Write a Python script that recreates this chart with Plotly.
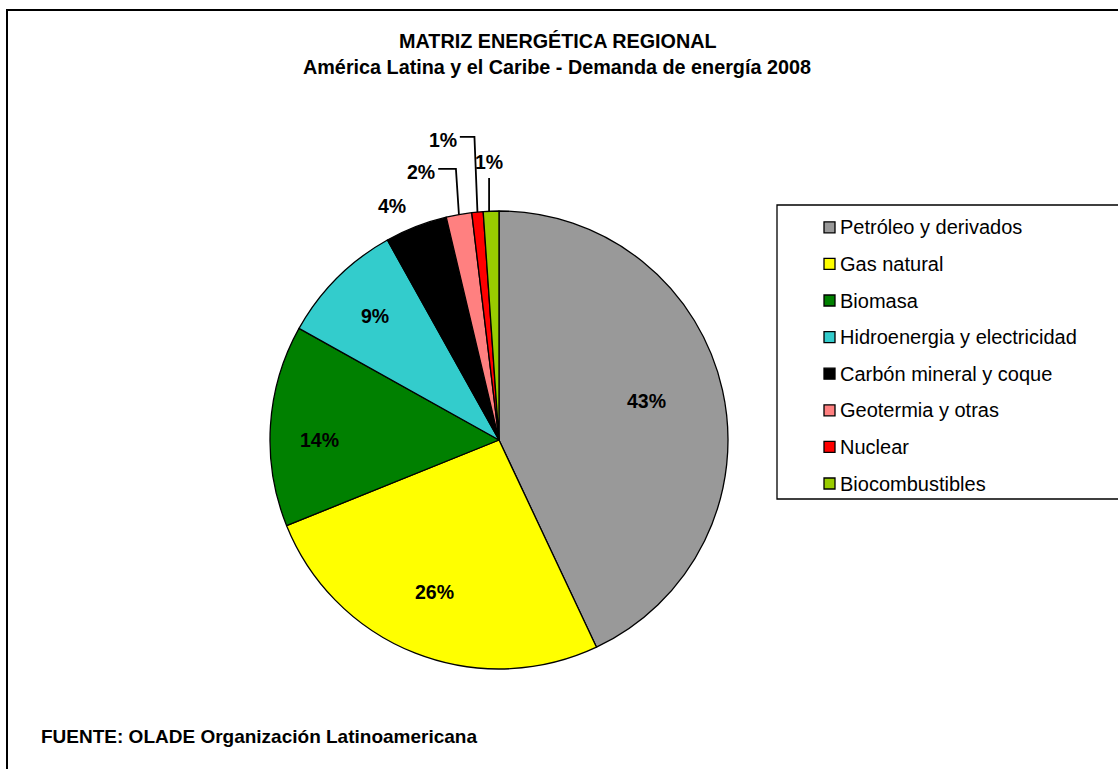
import math
import plotly.graph_objects as go

# datos (porcentaje de la demanda)
fuentes = ["Petróleo y derivados", "Gas natural", "Biomasa",
           "Hidroenergia y electricidad", "Carbón mineral y coque",
           "Geotermia y otras", "Nuclear", "Biocombustibles"]
valores = [43.0, 25.9, 14.2, 8.8, 4.4, 1.8, 0.8, 1.1]
colores = ["#999999", "#FFFF00", "#008000", "#33CCCC",
           "#000000", "#FF8080", "#FF0000", "#99CC00"]

titulo_1 = "MATRIZ ENERGÉTICA REGIONAL"
titulo_2 = "América Latina y el Caribe - Demanda de energía 2008"
fuente_txt = "FUENTE: OLADE Organización Latinoamericana"

# geometria en pixeles
W, H = 1118, 769
CX, CY, R = 499, 440, 229
FONT = "Liberation Sans, Arial, sans-serif"

# posicion de etiquetas: (factor de radio, desplazamiento angular en grados)
lab_pos = [(0.668, -2.2), (0.719, 1.5), (0.786, -3.6), (0.766, 0),
           (1.124, -3.4), (1.219, -6.1), (1.333, -5.2), (1.215, 0)]
# tipo de linea guia por porcion
guia = [None, None, None, None, None, "codo", "codo", "recta"]


def px(x):
    return x / W


def py(y):
    return 1 - y / H


def polar(theta, f):
    t = math.radians(theta)
    return CX + f * R * math.sin(t), CY - f * R * math.cos(t)


fig = go.Figure()

fig.add_trace(go.Pie(
    labels=fuentes, values=valores, sort=False, direction="clockwise",
    rotation=0, textinfo="none", hoverinfo="label+percent",
    marker=dict(colors=colores, line=dict(color="black", width=1.3)),
    domain=dict(x=[px(CX - R), px(CX + R)], y=[py(CY + R), py(CY - R)]),
    showlegend=False
))

total = sum(valores)
acum = 0
anots = []
shapes = []
for i, v in enumerate(valores):
    mid = 360 * (acum + v / 2) / total
    acum += v
    f, dt = lab_pos[i]
    lx, ly = polar(mid + dt, f)
    pct = f"{round(v / total * 100):.0f}%"
    anots.append(dict(x=px(lx), y=py(ly), xref="paper", yref="paper",
                      xanchor="center", yanchor="middle",
                      text=pct, showarrow=False,
                      font=dict(family=FONT, size=19.5, color="black", weight="bold")))
    ex, ey = polar(mid, 1.0)
    if guia[i] == "codo":
        ly2 = ly - 3
        path = (f"M {px(ex)},{py(ey)} L {px(ex - 3)},{py(ly2)} "
                f"L {px(lx + 17)},{py(ly2)}")
        shapes.append(dict(type="path", xref="paper", yref="paper", path=path,
                           line=dict(color="black", width=1.8)))
    elif guia[i] == "recta":
        shapes.append(dict(type="line", xref="paper", yref="paper",
                           x0=px(ex - 2), y0=py(ey), x1=px(ex - 2), y1=py(ly + 16),
                           line=dict(color="black", width=1.8)))

# leyenda manual
LEG_X, LEG_Y0, LEG_DY = 777, 227.3, 36.6
shapes.append(dict(type="rect", xref="paper", yref="paper",
                   x0=px(LEG_X), y0=py(205), x1=px(1125), y1=py(499),
                   line=dict(color="black", width=1.3), fillcolor="rgba(0,0,0,0)"))
for i, nombre in enumerate(fuentes):
    yc = LEG_Y0 + i * LEG_DY
    shapes.append(dict(type="rect", xref="paper", yref="paper",
                       x0=px(824), x1=px(835), y0=py(yc - 5.5), y1=py(yc + 5.5),
                       fillcolor=colores[i], line=dict(color="black", width=1.3)))
    anots.append(dict(x=px(837.5), y=py(yc), xref="paper", yref="paper",
                      xanchor="left", yanchor="middle", text=nombre, showarrow=False,
                      font=dict(family=FONT, size=20, color="black")))

# titulo y fuente
anots.append(dict(x=px(558), y=py(40.5), xref="paper", yref="paper", text=titulo_1,
                  showarrow=False, xanchor="center", yanchor="middle",
                  font=dict(family=FONT, size=19.8, color="black", weight="bold")))
anots.append(dict(x=px(557), y=py(67), xref="paper", yref="paper", text=titulo_2,
                  showarrow=False, xanchor="center", yanchor="middle",
                  font=dict(family=FONT, size=19.8, color="black", weight="bold")))
anots.append(dict(x=px(38.5), y=py(736), xref="paper", yref="paper", text=fuente_txt,
                  showarrow=False, xanchor="left", yanchor="middle",
                  font=dict(family=FONT, size=19, color="black", weight="bold")))

# marco exterior
shapes.append(dict(type="rect", xref="paper", yref="paper",
                   x0=px(7), y0=py(10), x1=px(1130), y1=py(790),
                   line=dict(color="black", width=2), fillcolor="rgba(0,0,0,0)"))

fig.update_layout(
    width=W, height=H,
    margin=dict(l=0, r=0, t=0, b=0),
    paper_bgcolor="white", plot_bgcolor="white",
    annotations=anots, shapes=shapes,
    showlegend=False
)

# sin margen del body para que la figura quede en (0,0)
fig.write_html("out.html", config={"displayModeBar": False},
               post_script="document.body.style.margin='0';")
